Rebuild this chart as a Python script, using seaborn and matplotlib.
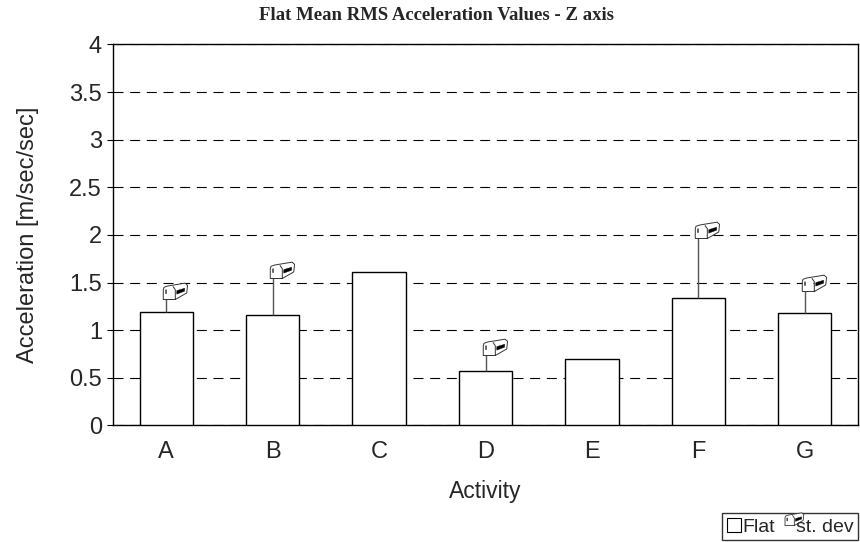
import numpy as np
import pandas as pd
import matplotlib
matplotlib.use("Agg")
import matplotlib.pyplot as plt
import seaborn as sns
from matplotlib.path import Path
from matplotlib.patches import Patch
from matplotlib.lines import Line2D

# Data
activities = ["A", "B", "C", "D", "E", "F", "G"]
flat_mean = [1.19, 1.16, 1.61, 0.575, 0.70, 1.34, 1.18]
flat_std = [0.14, 0.39, np.nan, 0.165, np.nan, 0.63, 0.23]

df = pd.DataFrame({"activity": activities, "mean": flat_mean, "std": flat_std})

# The odd "mailbox" glyph Excel drew at the tip of each st. dev bar
M = 22.0
box_verts = [(M, 0), (-3.3, 0), (-3.3, 10), (-2.5, 12.5), (1.3, 13.8), (19, 16.7),
             (21.5, 14.5), (20.7, 6.7), (9, 0), (-3.3, 0),
             (9, 0), (9, 10), (6.5, 13.5)]
box_codes = [Path.MOVETO, Path.MOVETO, Path.LINETO, Path.LINETO, Path.LINETO, Path.LINETO,
             Path.LINETO, Path.LINETO, Path.LINETO, Path.CLOSEPOLY,
             Path.MOVETO, Path.LINETO, Path.LINETO]
mailbox = Path(box_verts, box_codes)
flag_verts = [(M, 0), (10.5, 5.5), (18.5, 8.5), (18.5, 11.5), (12, 9.5), (10.5, 9), (10.5, 5.5),
              (-0.8, 6), (-0.2, 6), (-0.2, 10), (-0.8, 10), (-0.8, 6)]
flag_codes = [Path.MOVETO, Path.MOVETO, Path.LINETO, Path.LINETO, Path.LINETO, Path.LINETO, Path.CLOSEPOLY,
              Path.MOVETO, Path.LINETO, Path.LINETO, Path.LINETO, Path.CLOSEPOLY]
flag = Path(flag_verts, flag_codes)
glyph_size = 31

sns.set_style("white")
plt.rcParams["font.family"] = ["Liberation Sans", "DejaVu Sans"]

fig = plt.figure(figsize=(8.6, 5.42), dpi=100)
ax = fig.add_axes([0.1314, 0.2150, 0.8663, 0.7030])

sns.barplot(data=df, x="activity", y="mean", color="white", edgecolor="black",
            linewidth=1.0, width=0.5, saturation=1, ax=ax, zorder=3)

has_err = df["std"].notna()
xpos = np.arange(len(activities))[has_err]
ymean = df.loc[has_err, "mean"].values
yerr = df.loc[has_err, "std"].values
ax.errorbar(xpos, ymean, yerr=[np.zeros_like(yerr), yerr], fmt="none",
            ecolor="#555555", elinewidth=1.0, capsize=0, zorder=4)
ax.plot(xpos, ymean + yerr, linestyle="none", marker=mailbox, markersize=glyph_size,
        markerfacecolor="white", markeredgecolor="#333333", markeredgewidth=0.7, zorder=5)
ax.plot(xpos, ymean + yerr, linestyle="none", marker=flag, markersize=glyph_size,
        markerfacecolor="black", markeredgecolor="black", markeredgewidth=0.3, zorder=6)

ax.set_ylim(0, 4)
ax.set_xlim(-0.5, len(activities) - 0.5)
yticks = np.arange(0, 4.01, 0.5)
ax.set_yticks(yticks)
ax.set_yticklabels([f"{v:g}" for v in yticks])
ax.yaxis.grid(True, color="black", linewidth=0.8, linestyle=(0, (9, 6)), zorder=0)
ax.set_axisbelow(True)
ax.tick_params(axis="y", which="major", left=True, length=4, width=0.8, color="black",
               labelsize=17, pad=4)
ax.tick_params(axis="x", bottom=False, labelsize=17, pad=8)
for s in ax.spines.values():
    s.set_color("black")
    s.set_linewidth(1.0)

ax.set_xlabel("Activity", fontsize=16.5, labelpad=12)
ax.set_ylabel("Acceleration [m/sec/sec]", fontsize=17, labelpad=22)

fig.text(0.507, 0.972, "Flat Mean RMS Acceleration Values - Z axis", ha="center", va="center",
         fontsize=13.5, fontweight="bold", family=["Liberation Serif", "DejaVu Serif"])

bar_handle = Patch(facecolor="white", edgecolor="black", linewidth=0.8)
glyph_handle = (Line2D([], [], linestyle="none", marker=mailbox, markersize=24,
                       markerfacecolor="white", markeredgecolor="#333333", markeredgewidth=0.6),
                Line2D([], [], linestyle="none", marker=flag, markersize=24,
                       markerfacecolor="black", markeredgecolor="black", markeredgewidth=0.3))
leg = fig.legend([bar_handle, glyph_handle], ["Flat", "st. dev"], loc="lower right",
                 bbox_to_anchor=(0.998, 0.003), ncol=2, fontsize=14, frameon=True,
                 fancybox=False, borderpad=0.25, handlelength=0.7, handleheight=0.7,
                 handletextpad=0.1, columnspacing=0.25, borderaxespad=0)
leg.get_frame().set_edgecolor("black")
leg.get_frame().set_linewidth(1.0)

fig.savefig("out.png", dpi=100)
